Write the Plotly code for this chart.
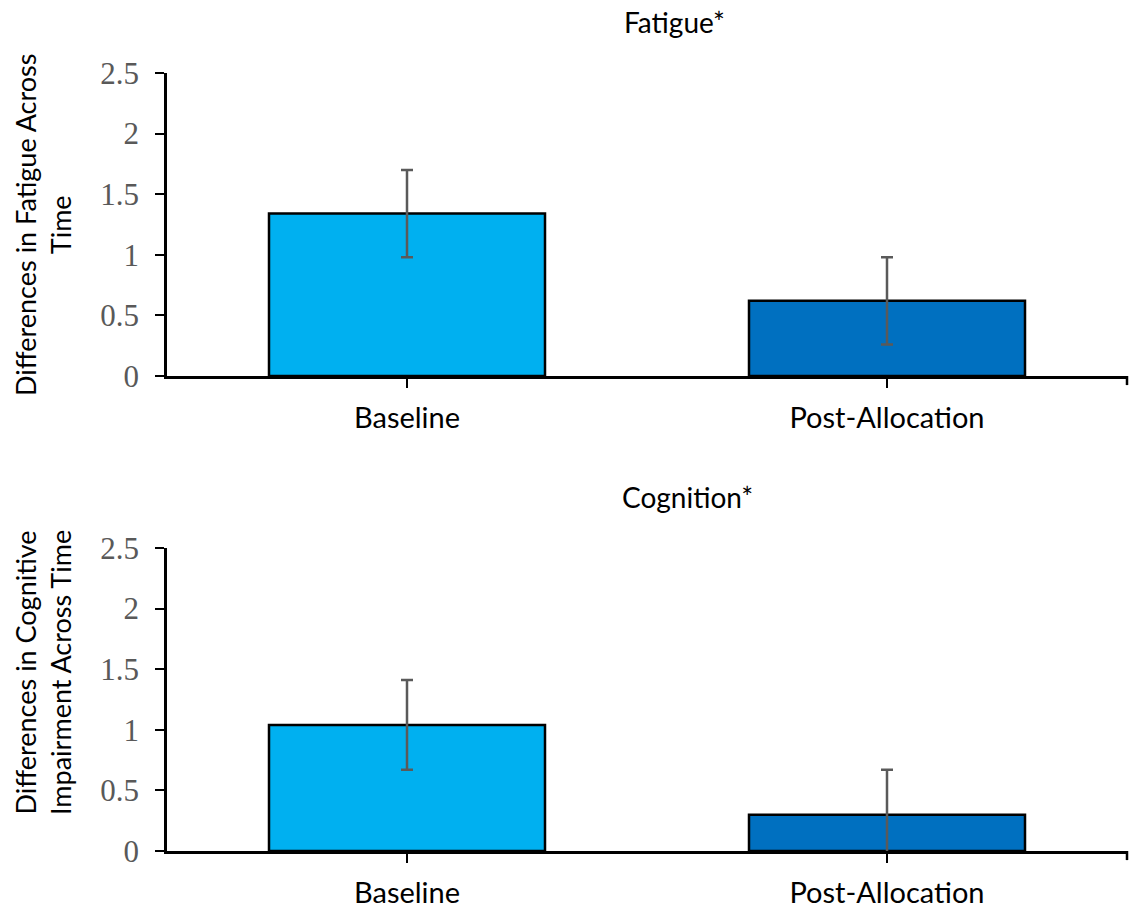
import plotly.graph_objects as go

# Data
categories = ["Baseline", "Post-Allocation"]
fatigue_means = [1.34, 0.62]
fatigue_errors = [0.36, 0.36]
cognition_means = [1.04, 0.30]
cognition_errors = [0.37, 0.37]
bar_colors = ["#00B0F0", "#0070C0"]
panel_titles = ["Fatigue*", "Cognition*"]
y_titles = ["Differences in Fatigue Across<br>Time",
            "Differences in Cognitive<br>Impairment Across Time"]
y_ticks = [0, 0.5, 1, 1.5, 2, 2.5]

W, H = 1131, 913


def px_x(p):
    return p / W


def px_y(p):
    return 1 - p / H


fig = go.Figure()

panels = [
    (fatigue_means, fatigue_errors, "x", "y"),
    (cognition_means, cognition_errors, "x2", "y2"),
]
for means, errs, xa, ya in panels:
    fig.add_trace(go.Bar(
        x=categories, y=means,
        xaxis=xa, yaxis=ya,
        width=0.575,
        marker=dict(color=bar_colors, line=dict(color="black", width=2.5)),
        error_y=dict(type="data", array=errs, visible=True,
                     color="#5a5a5a", thickness=2.5, width=6),
        showlegend=False,
        hoverinfo="x+y",
    ))

x_domain = [px_x(167), px_x(1127)]
y_domains = [[px_y(376), px_y(73)], [px_y(851), px_y(548)]]

xaxis_common = dict(
    type="category", range=[-0.5, 1.5], domain=x_domain,
    showline=True, linecolor="black", linewidth=2.5,
    ticks="outside", ticklen=9, tickwidth=2, tickcolor="black",
    tickfont=dict(family="Lato", size=29, color="black"),
    showgrid=False, zeroline=False, fixedrange=True,
    ticklabelstandoff=5, automargin=False,
)
yaxis_common = dict(
    range=[0, 2.5], tickvals=y_ticks,
    showline=True, linecolor="black", linewidth=2.5,
    ticks="outside", ticklen=9, tickwidth=2, tickcolor="black",
    tickfont=dict(family="Liberation Serif", size=31, color="#595959"),
    showgrid=False, zeroline=False, fixedrange=True,
    ticklabelstandoff=10, automargin=False,
)

fig.update_layout(
    width=W, height=H,
    margin=dict(l=0, r=0, t=0, b=0, pad=0, autoexpand=False),
    paper_bgcolor="white", plot_bgcolor="white",
    bargap=0.425,
    xaxis=dict(**xaxis_common, anchor="y"),
    yaxis=dict(**yaxis_common, domain=y_domains[0], anchor="x"),
    xaxis2=dict(**xaxis_common, anchor="y2"),
    yaxis2=dict(**yaxis_common, domain=y_domains[1], anchor="x2"),
)

# Tick at the right end of each category axis
for xref, yref in [("x domain", "y domain"), ("x2 domain", "y2 domain")]:
    fig.add_shape(type="line", xref=xref, yref=yref,
                  x0=1, x1=1, y0=0, y1=-0.03,
                  line=dict(color="black", width=2.5))

# Panel titles
title_pos = [(674, 22), (687, 497)]
for text, (tx, ty) in zip(panel_titles, title_pos):
    fig.add_annotation(text=text, xref="paper", yref="paper",
                       x=px_x(tx), y=px_y(ty), showarrow=False,
                       xanchor="center", yanchor="middle",
                       font=dict(family="Lato", size=28, color="black"))

# Rotated y-axis titles
ytitle_pos = [(43, 225), (43, 673)]
for text, (tx, ty) in zip(y_titles, ytitle_pos):
    fig.add_annotation(text=text, xref="paper", yref="paper",
                       x=px_x(tx), y=px_y(ty), showarrow=False,
                       textangle=-90, xanchor="center", yanchor="middle",
                       align="center",
                       font=dict(family="Lato", size=27, color="black"))

fig.write_html("out.html")
